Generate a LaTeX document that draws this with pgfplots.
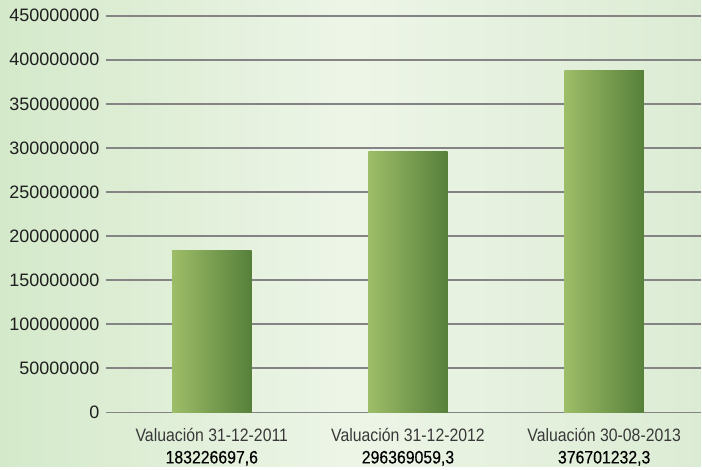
\documentclass[border=0pt]{standalone}
\usepackage{fontspec}
\setmainfont{Liberation Sans}
\newfontfamily\xlfont{Liberation Sans}[FakeStretch=0.88]
\usepackage{pgfplots}
\pgfplotsset{compat=1.18}
\definecolor{bgL}{RGB}{212,233,202}
\definecolor{bgM}{RGB}{237,245,231}
\definecolor{bgR}{RGB}{220,236,212}
\definecolor{barL}{RGB}{158,189,104}
\definecolor{barM}{RGB}{126,172,64}
\definecolor{barR}{RGB}{86,128,58}
\definecolor{gridc}{RGB}{132,132,132}
\begin{document}
\begin{tikzpicture}
\shade[left color=bgL, right color=bgR, middle color=bgM] (0,0) rectangle (702bp,467bp);
\begin{axis}[
  at={(106bp,54bp)}, anchor=south west,
  scale only axis, width=596bp, height=397.3bp,
  xmin=-0.54, xmax=2.494, ymin=0, ymax=450000000,
  axis line style={draw=none}, major tick style={draw=none},
  ymajorgrids, grid style={gridc, line width=1.8bp},
  scaled y ticks=false,
  ytick={0,50000000,100000000,150000000,200000000,250000000,300000000,350000000,400000000,450000000},
  yticklabels={0,50000000,100000000,150000000,200000000,250000000,300000000,350000000,400000000,450000000},
  yticklabel style={font=\fontsize{18bp}{21bp}\selectfont, text=black!88, xshift=-3bp},
  xtick={0,1,2},
  xticklabels={{Valuación 31-12-2011\\\color{black}\addfontfeature{FakeBold=0.3}183226697,6},{Valuación 31-12-2012\\\color{black}\addfontfeature{FakeBold=0.3}296369059,3},{Valuación 30-08-2013\\\color{black}\addfontfeature{FakeBold=0.3}376701232,3}},
  xticklabel style={align=center, font=\xlfont\fontsize{18bp}{22bp}\selectfont, text=black!78, yshift=-8bp},
  ybar, bar width=79.5bp, bar shift=0pt,
]
\addplot[draw=none, left color=barL, middle color=barM, right color=barR] coordinates {(0,183226697.6)};
\addplot[draw=none, left color=barL, middle color=barM, right color=barR] coordinates {(1,296369059.3)};
\addplot[draw=none, left color=barL, middle color=barM, right color=barR] coordinates {(2,387700000)};
\end{axis}
\end{tikzpicture}
\end{document}
